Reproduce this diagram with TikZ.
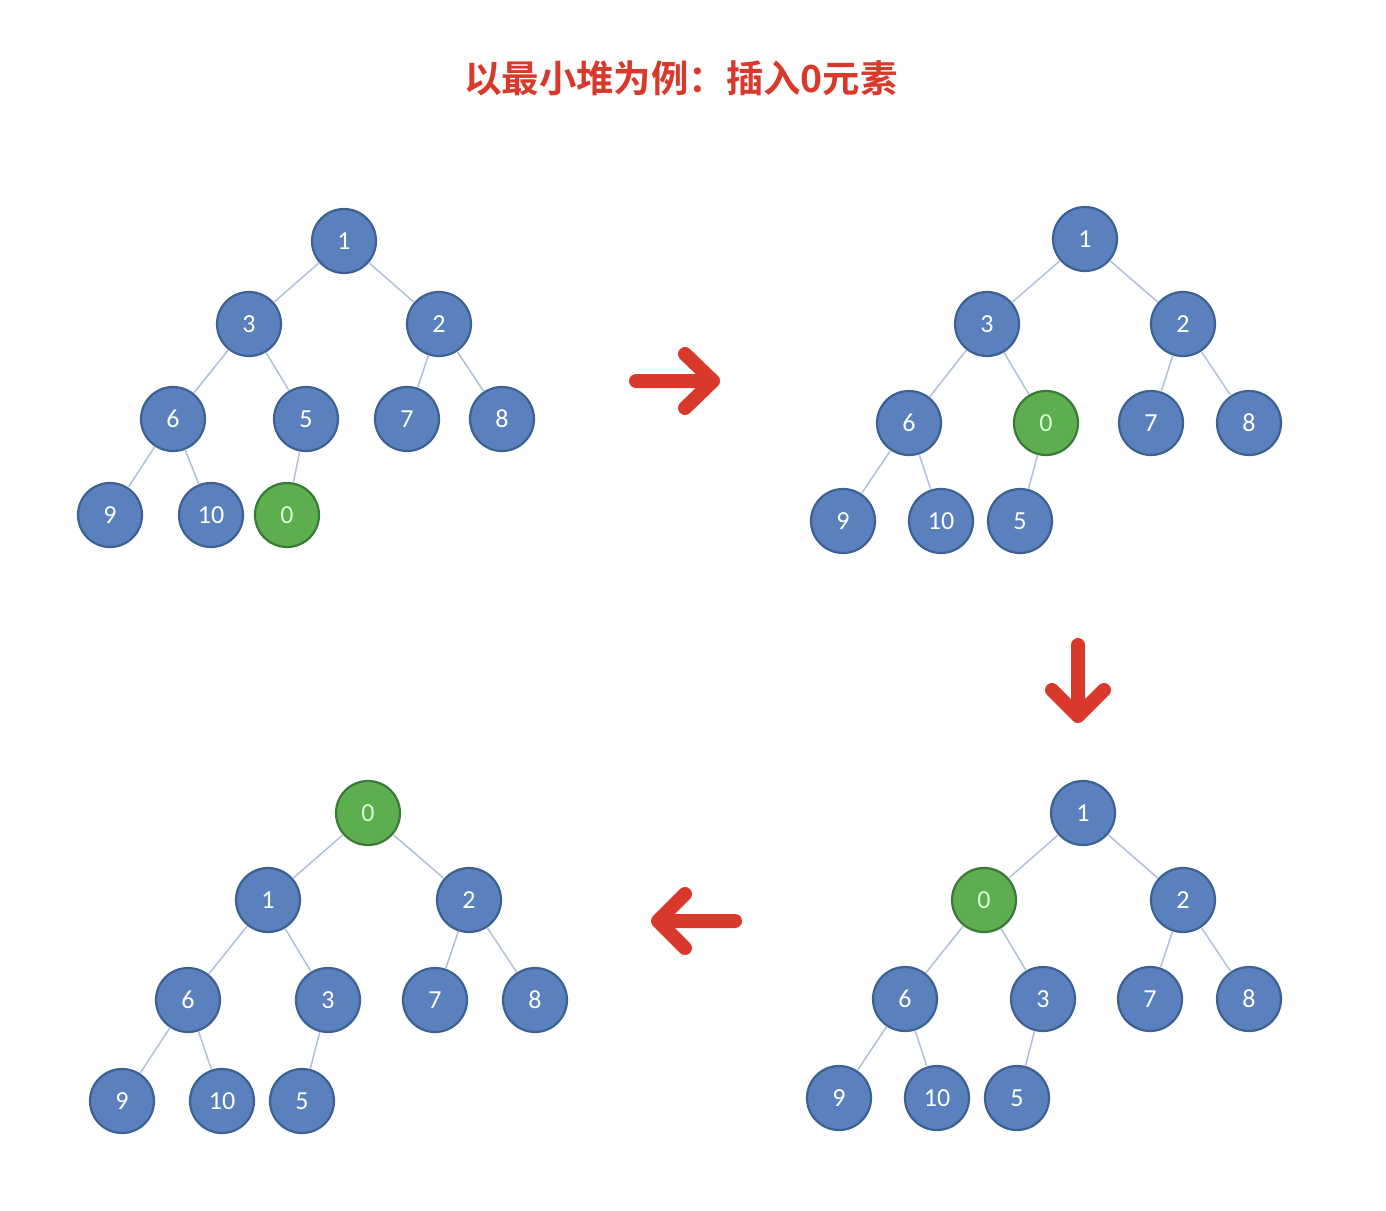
\documentclass[tikz,border=0pt]{standalone}
\usepackage{fontspec}
\setmainfont{Carlito}
\newfontfamily\cjk{Noto Sans CJK SC}[BoldFont={* Bold}]
\definecolor{nodeblue}{HTML}{5A80BD}
\definecolor{nodeblueedge}{HTML}{3D6192}
\definecolor{nodegreen}{HTML}{5CAE4E}
\definecolor{nodegreenedge}{HTML}{3A7A38}
\definecolor{edgecol}{HTML}{AFC0D8}
\definecolor{arrred}{HTML}{D9392B}
\tikzset{
  hn/.style={circle, minimum size=32pt, inner sep=0pt, fill=nodeblue, draw=nodeblueedge, line width=1.1pt, text=white, font=\fontsize{13pt}{15pt}\selectfont},
  gn/.style={hn, fill=nodegreen, draw=nodegreenedge, text=green!15!white},
  ed/.style={draw=edgecol, line width=0.75pt},
  bigarr/.style={draw=arrred, line width=7pt, line cap=round, line join=round}
}
\begin{document}
\begin{tikzpicture}[x=0.5pt,y=-0.5pt]
\useasboundingbox (0,0) rectangle (1386,1210);
\node[text=arrred, font=\cjk\bfseries\fontsize{18.7pt}{22pt}\selectfont] (title) at (681,78) {以最小堆为例：插入0元素};

% Tree A
\node[hn] (a1) at (344,241) {1};
\node[hn] (a3) at (249,324) {3};
\node[hn] (a2) at (439,324) {2};
\node[hn] (a6) at (173,419) {6};
\node[hn] (a5) at (306,419) {5};
\node[hn] (a7) at (407,419) {7};
\node[hn] (a8) at (502,419) {8};
\node[hn] (a9) at (110,515) {9};
\node[hn] (a10) at (211,515) {10};
\node[gn] (a0) at (287,515) {0};
\path[ed] (a1)--(a3) (a1)--(a2) (a3)--(a6) (a3)--(a5) (a2)--(a7) (a2)--(a8) (a6)--(a9) (a6)--(a10) (a5)--(a0);

% Tree B
\node[hn] (b1) at (1085,239) {1};
\node[hn] (b3) at (987,324) {3};
\node[hn] (b2) at (1183,324) {2};
\node[hn] (b6) at (909,423) {6};
\node[gn] (b0) at (1046,423) {0};
\node[hn] (b7) at (1151,423) {7};
\node[hn] (b8) at (1249,423) {8};
\node[hn] (b9) at (843,521) {9};
\node[hn] (b10) at (941,521) {10};
\node[hn] (b5) at (1020,521) {5};
\path[ed] (b1)--(b3) (b1)--(b2) (b3)--(b6) (b3)--(b0) (b2)--(b7) (b2)--(b8) (b6)--(b9) (b6)--(b10) (b0)--(b5);

% Tree C
\node[hn] (c1) at (1083,813) {1};
\node[gn] (c0) at (984,900) {0};
\node[hn] (c2) at (1183,900) {2};
\node[hn] (c6) at (905,999) {6};
\node[hn] (c3) at (1043,999) {3};
\node[hn] (c7) at (1150,999) {7};
\node[hn] (c8) at (1249,999) {8};
\node[hn] (c9) at (839,1098) {9};
\node[hn] (c10) at (937,1098) {10};
\node[hn] (c5) at (1017,1098) {5};
\path[ed] (c1)--(c0) (c1)--(c2) (c0)--(c6) (c0)--(c3) (c2)--(c7) (c2)--(c8) (c6)--(c9) (c6)--(c10) (c3)--(c5);

% Tree D
\node[gn] (d0) at (368,813) {0};
\node[hn] (d1) at (268,900) {1};
\node[hn] (d2) at (469,900) {2};
\node[hn] (d6) at (188,1000) {6};
\node[hn] (d3) at (328,1000) {3};
\node[hn] (d7) at (435,1000) {7};
\node[hn] (d8) at (535,1000) {8};
\node[hn] (d9) at (122,1101) {9};
\node[hn] (d10) at (222,1101) {10};
\node[hn] (d5) at (302,1101) {5};
\path[ed] (d0)--(d1) (d0)--(d2) (d1)--(d6) (d1)--(d3) (d2)--(d7) (d2)--(d8) (d6)--(d9) (d6)--(d10) (d3)--(d5);

% Arrows
\coordinate (r0) at (636,381); \coordinate (r1) at (713,381);
\coordinate (r2) at (685,354); \coordinate (r3) at (685,408);
\draw[bigarr] (r0)--(r1) (r2)--(r1)--(r3);
\coordinate (s0) at (1078,645); \coordinate (s1) at (1078,716);
\coordinate (s2) at (1052,690); \coordinate (s3) at (1104,690);
\draw[bigarr] (s0)--(s1) (s2)--(s1)--(s3);
\coordinate (t0) at (735,921); \coordinate (t1) at (658,921);
\coordinate (t2) at (685,894); \coordinate (t3) at (685,948);
\draw[bigarr] (t0)--(t1) (t2)--(t1)--(t3);
\end{tikzpicture}
\end{document}
